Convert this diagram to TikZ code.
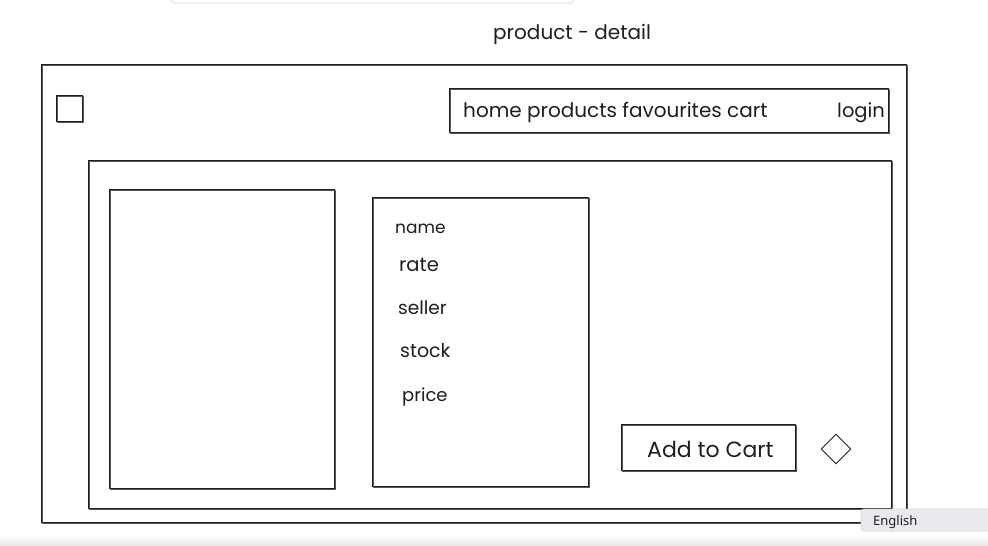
\documentclass[tikz,border=0pt]{standalone}
\usepackage{fontspec}
\setmainfont{Poppins}
\newfontfamily\uifont{Noto Sans}
\usetikzlibrary{shapes.geometric}
\definecolor{ink}{HTML}{1E1E1E}
\definecolor{chip}{HTML}{E8EAED}
\definecolor{chipline}{HTML}{D3D6DB}
\tikzset{
  sketch/.style={draw=ink, line width=1pt, inner sep=0pt, outer sep=0pt,
    anchor=north west,
    postaction={draw=ink!75, line width=0.6pt,
      transform canvas={xshift=0.9pt, yshift=-0.8pt}}},
  label/.style={anchor=base west, inner sep=0pt, text=ink, font=\fontsize{18}{22}\selectfont},
}
\begin{document}
\begin{tikzpicture}[x=1pt, y=-1pt]
\useasboundingbox (0,0) rectangle (988,546);
\fill[white] (0,0) rectangle (988,546);

% remnant of a floating panel at the top edge
\fill[black!7, rounded corners=4] (170,-10) rectangle (575,4);
\fill[white, rounded corners=3] (172,-10) rectangle (573,2);

% page title
\node[label, font=\fontsize{20}{24}\selectfont] (title) at (493,39) {product - detail};

% outer frame of the page
\node[sketch, minimum width=865pt, minimum height=458pt] (frame) at (41,64) {};

% logo placeholder
\node[sketch, minimum width=26pt, minimum height=26pt] (logo) at (56,95) {};

% navigation bar
\node[sketch, minimum width=439pt, minimum height=44pt] (nav) at (449,88) {};
\node[label, font=\fontsize{20}{24}\selectfont] (menu) at (463,117) {home products favourites cart};
\node[label, font=\fontsize{19.5}{24}\selectfont] (login) at (837,117) {login};

% content panel
\node[sketch, minimum width=803pt, minimum height=348pt] (panel) at (88,160) {};

% product image
\node[sketch, minimum width=225pt, minimum height=299pt] (image) at (109,189) {};

% product information
\node[sketch, minimum width=216pt, minimum height=289pt] (info) at (372,197) {};
\node[label, font=\fontsize{17}{22}\selectfont] (name) at (395,233) {name};
\node[label, font=\fontsize{19.5}{22}\selectfont] (rate) at (399,271) {rate};
\node[label, font=\fontsize{18.5}{22}\selectfont] (seller) at (398,314) {seller};
\node[label, font=\fontsize{19}{22}\selectfont] (stock) at (400,357) {stock};
\node[label] (price) at (402,401) {price};

% add to cart button and favourite toggle
\node[sketch, minimum width=174pt, minimum height=46pt] (button) at (621,424) {};
\node[label, font=\fontsize{22}{26}\selectfont] (buttontext) at (647,457) {Add to Cart};
\node[draw=ink, line width=0.9pt, diamond, aspect=1, minimum size=30pt, inner sep=0pt] (fav) at (836,449) {};

% bottom fade
\shade[top color=white, bottom color=black!9] (0,535) rectangle (988,546);

% language chip
\draw[fill=chip, draw=chipline, line width=0.8pt, rounded corners=3] (861,509) rectangle (995,531);
\node[anchor=base west, inner sep=0pt, font=\uifont\fontsize{13}{15}\selectfont, text=ink] (lang) at (873,525) {English};
\end{tikzpicture}
\end{document}
